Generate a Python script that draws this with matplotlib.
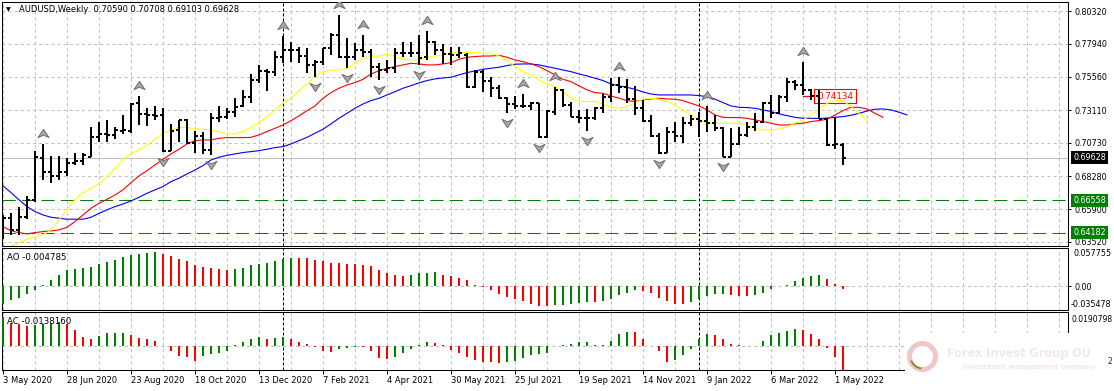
import numpy as np
import matplotlib
matplotlib.use("Agg")
import matplotlib.pyplot as plt
from matplotlib.collections import LineCollection
from matplotlib.path import Path
from matplotlib.patches import Rectangle, Circle, Arc
from matplotlib.transforms import offset_copy

plt.rcParams["font.family"] = ["DejaVu Sans"]
plt.rcParams["lines.scale_dashes"] = False

# AUDUSD weekly bars, first bar = week of 3 May 2020
opens = [.6450, .6523, .6438, .6535, .6657, .6960, .6863, .6834, .6863, .6929,
         .6943, .6973, .7113, .7138, .7131, .7162, .7162, .7361, .7284, .7276,
         .7276, .7016, .7167, .7240, .7075, .7123, .7021, .7252, .7264, .7301,
         .7342, .7410, .7531, .7599, .7592, .7697, .7750, .7750, .7706, .7641,
         .7665, .7762, .7860, .7697, .7702, .7750, .7738, .7629, .7604, .7617,
         .7726, .7731, .7726, .7697, .7811, .7750, .7721, .7714, .7714, .7478,
         .7592, .7524, .7471, .7398, .7356, .7342, .7342, .7361, .7118, .7301,
         .7459, .7349, .7264, .7252, .7252, .7325, .7410, .7495, .7478, .7390,
         .7325, .7235, .7123, .6997, .7155, .7123, .7216, .7245, .7235, .7220,
         .7179, .6973, .7065, .7131, .7191, .7228, .7361, .7288, .7410, .7519,
         .7495, .7459, .7415, .7245, .7058, .70590]
highs = [.6547, .6559, .6603, .6686, .7014, .7065, .6977, .6977, .6960, .6997,
         .6997, .7186, .7223, .7240, .7186, .7276, .7361, .7415, .7325, .7342,
         .7325, .7211, .7240, .7245, .7160, .7155, .7288, .7342, .7325, .7398,
         .7459, .7575, .7641, .7609, .7745, .7852, .7811, .7774, .7762, .7677,
         .7767, .7872, .8005, .7835, .7804, .7860, .7755, .7653, .7677, .7762,
         .7811, .7811, .7860, .7889, .7818, .7794, .7774, .7774, .7726, .7604,
         .7604, .7556, .7495, .7405, .7415, .7427, .7374, .7366, .7313, .7478,
         .7463, .7374, .7313, .7318, .7337, .7429, .7544, .7556, .7536, .7488,
         .7386, .7276, .7143, .7186, .7228, .7259, .7276, .7301, .7342, .7276,
         .7191, .7179, .7191, .7228, .7288, .7374, .7422, .7422, .7544, .7531,
         .7665, .7463, .7459, .7252, .7264, .70708]
lows = [.6370, .6402, .6402, .6516, .6645, .6802, .6778, .6802, .6832, .6912,
        .6912, .6968, .7077, .7082, .7099, .7138, .7148, .7203, .7193, .7240,
        .7009, .7016, .7082, .7065, .6997, .6992, .6985, .7228, .7245, .7264,
        .7332, .7366, .7507, .7454, .7561, .7658, .7665, .7658, .7585, .7551,
        .7641, .7714, .7690, .7617, .7677, .7702, .7556, .7531, .7580, .7585,
        .7702, .7702, .7641, .7677, .7714, .7648, .7641, .7689, .7471, .7471,
        .7446, .7405, .7390, .7288, .7318, .7325, .7313, .7106, .7111, .7276,
        .7337, .7259, .7216, .7162, .7240, .7288, .7374, .7434, .7361, .7276,
        .7228, .7118, .6992, .6997, .7082, .7075, .7196, .7118, .7155, .7162,
        .6968, .6973, .7058, .7118, .7162, .7220, .7252, .7284, .7374, .7459,
        .7422, .7386, .7245, .7053, .7026, .69103]
closes = [.6523, .6438, .6535, .6657, .6973, .6863, .6834, .6863, .6929, .6943,
          .6985, .7113, .7138, .7131, .7167, .7167, .7356, .7284, .7276, .7269,
          .7016, .7162, .7240, .7075, .7123, .7021, .7252, .7264, .7301, .7332,
          .7410, .7531, .7599, .7592, .7697, .7750, .7750, .7706, .7641, .7665,
          .7762, .7860, .7697, .7702, .7750, .7738, .7629, .7604, .7617, .7726,
          .7731, .7726, .7689, .7811, .7750, .7721, .7714, .7726, .7478, .7592,
          .7524, .7471, .7398, .7356, .7342, .7342, .7361, .7118, .7308, .7459,
          .7349, .7264, .7252, .7252, .7325, .7410, .7495, .7478, .7390, .7325,
          .7235, .7123, .6997, .7155, .7123, .7216, .7245, .7235, .7220, .7179,
          .6973, .7065, .7131, .7191, .7228, .7361, .7288, .7410, .7519, .7495,
          .7459, .7415, .7245, .7058, .7065, .69628]

# alligator lines (jaw/teeth/lips run 8/5/3 bars past the last bar)
jaw = [.6759, .6710, .6657, .6608, .6572, .6547, .6530, .6523, .6516, .6516,
       .6516, .6530, .6559, .6584, .6608, .6627, .6649, .6676, .6705, .6730,
       .6754, .6790, .6815, .6846, .6875, .6907, .6948, .6968, .6982, .6992,
       .7002, .7009, .7016, .7026, .7038, .7045, .7065, .7089, .7113, .7143,
       .7172, .7211, .7252, .7288, .7325, .7356, .7381, .7398, .7422, .7446,
       .7471, .7490, .7510, .7527, .7539, .7546, .7551, .7568, .7585, .7597,
       .7609, .7617, .7624, .7636, .7646, .7648, .7648, .7641, .7629, .7617,
       .7604, .7592, .7575, .7561, .7544, .7527, .7502, .7488, .7478, .7463,
       .7444, .7429, .7422, .7422, .7422, .7422, .7422, .7417, .7410, .7391,
       .7366, .7342, .7332, .7330, .7325, .7313, .7301, .7284, .7271, .7259,
       .7252, .7252, .7250, .7254, .7259, .7264, .7274, .7288, .7305, .7318,
       .7320, .7313, .7296, .7276]
teeth = [.6462, .6431, .6418, .6409, .6418, .6426, .6431, .6438, .6457, .6499,
         .6547, .6596, .6632, .6661, .6693, .6730, .6783, .6832, .6870, .6912,
         .6953, .6992, .7026, .7065, .7089, .7094, .7094, .7106, .7111, .7111,
         .7111, .7113, .7131, .7155, .7179, .7203, .7235, .7269, .7308, .7342,
         .7398, .7439, .7471, .7495, .7512, .7536, .7575, .7599, .7617, .7629,
         .7641, .7653, .7648, .7641, .7641, .7648, .7658, .7682, .7697, .7702,
         .7706, .7706, .7711, .7697, .7677, .7665, .7648, .7629, .7599, .7568,
         .7536, .7519, .7488, .7459, .7439, .7434, .7415, .7398, .7381, .7374,
         .7386, .7393, .7398, .7393, .7391, .7381, .7361, .7342, .7313, .7276,
         .7259, .7257, .7257, .7252, .7240, .7228, .7216, .7203, .7203, .7211,
         .7216, .7228, .7235, .7245, .7276, .7308, .7332, .7332, .7320, .7288,
         .7259]
lips = [.6297, .6321, .6346, .6370, .6384, .6402, .6438, .6511, .6584, .6661,
        .6710, .6742, .6778, .6827, .6887, .6948, .6997, .7021, .7058, .7099,
        .7143, .7167, .7186, .7184, .7174, .7172, .7167, .7155, .7138, .7138,
        .7155, .7186, .7220, .7264, .7313, .7361, .7398, .7454, .7502, .7561,
        .7592, .7604, .7604, .7617, .7653, .7689, .7702, .7706, .7721, .7702,
        .7682, .7677, .7682, .7697, .7706, .7714, .7731, .7731, .7731, .7731,
        .7726, .7726, .7706, .7672, .7629, .7592, .7568, .7531, .7502, .7483,
        .7446, .7398, .7374, .7374, .7374, .7356, .7332, .7325, .7337, .7366,
        .7391, .7398, .7391, .7374, .7349, .7313, .7276, .7240, .7216, .7216,
        .7216, .7216, .7216, .7203, .7179, .7167, .7167, .7172, .7191, .7216,
        .7240, .7276, .7318, .7361, .7381, .7378, .7337, .7288, .7235]

fractal_up = [5, 17, 35, 42, 45, 53, 65, 69, 77, 88, 100]
fractal_down = [20, 26, 39, 43, 47, 52, 63, 67, 73, 82, 90]

ao = [-0.0273, -0.0213, -0.0174, -0.0114, -0.0055, 0.0020, 0.0094, 0.0169, 0.0233, 0.0248,
      0.0263, 0.0283, 0.0332, 0.0367, 0.0397, 0.0441, 0.0471, 0.0486, 0.0491, 0.0511,
      0.0481, 0.0451, 0.0412, 0.0377, 0.0317, 0.0283, 0.0273, 0.0248, 0.0243, 0.0248,
      0.0273, 0.0308, 0.0332, 0.0347, 0.0382, 0.0407, 0.0422, 0.0417, 0.0414, 0.0392,
      0.0382, 0.0347, 0.0345, 0.0332, 0.0330, 0.0322, 0.0293, 0.0233, 0.0198, 0.0169,
      0.0149, 0.0159, 0.0193, 0.0198, 0.0203, 0.0169, 0.0149, 0.0124, 0.0084, 0.0020,
      -0.0015, -0.0064, -0.0124, -0.0164, -0.0198, -0.0228, -0.0263, -0.0293, -0.0303, -0.0288,
      -0.0278, -0.0263, -0.0253, -0.0238, -0.0243, -0.0228, -0.0188, -0.0139, -0.0104, -0.0064,
      -0.0067, -0.0104, -0.0179, -0.0223, -0.0263, -0.0265, -0.0238, -0.0188, -0.0154, -0.0124,
      -0.0119, -0.0139, -0.0144, -0.0149, -0.0139, -0.0099, -0.0040, -0.0005, 0.0010, 0.0074,
      0.0124, 0.0144, 0.0159, 0.0099, 0.0035, -0.004785]
ac = [0.0164, 0.0131, 0.0121, 0.0112, 0.0116, 0.0125, 0.0131, 0.0133, 0.0121, 0.0087,
      0.0048, 0.0040, 0.0054, 0.0069, 0.0071, 0.0072, 0.0060, 0.0044, 0.0035, 0.0029,
      -0.0002, -0.0029, -0.0056, -0.0067, -0.0085, -0.0056, -0.0046, -0.0042, -0.0029, 0.0002,
      0.0019, 0.0040, 0.0048, 0.0040, 0.0042, 0.0048, 0.0040, 0.0021, 0.0012, -0.0008,
      -0.0033, -0.0034, -0.0017, -0.0013, -0.0006, -0.0008, -0.0033, -0.0071, -0.0075, -0.0062,
      -0.0042, -0.0017, 0.0001, 0.0019, 0.0015, 0.0002, -0.0023, -0.0039, -0.0062, -0.0081,
      -0.0091, -0.0094, -0.0096, -0.0095, -0.0085, -0.0071, -0.0052, -0.0048, -0.0039, -0.0004,
      0.0006, 0.0012, 0.0021, 0.0023, 0.0006, 0.0005, 0.0025, 0.0064, 0.0079, 0.0075,
      0.0040, -0.0004, -0.0029, -0.0091, -0.0081, -0.0052, -0.0017, 0.0040, 0.0064, 0.0062,
      0.0040, 0.0010, 0.0002, -0.0001, 0.00005, 0.0029, 0.0060, 0.0071, 0.0085, 0.0092,
      0.0089, 0.0067, 0.0040, -0.0013, -0.0062, -0.013816]

price_ticks = [0.80320, 0.77940, 0.75560, 0.73110, 0.70730, 0.68280, 0.65900, 0.63520]
current_price = 0.69628
levels = [0.66558, 0.64182]
label_price = 0.74134
ao_range = (-0.035478, 0.057755)
ac_range = (-0.013816, 0.0190798)
year_breaks = [35, 87]
date_idx = list(range(0, 105, 8))
date_labels = ["3 May 2020", "28 Jun 2020", "23 Aug 2020", "18 Oct 2020", "13 Dec 2020",
               "7 Feb 2021", "4 Apr 2021", "30 May 2021", "25 Jul 2021", "19 Sep 2021",
               "14 Nov 2021", "9 Jan 2022", "6 Mar 2022", "1 May 2022"]

W, H = 1114, 391
GREEN, RED = "#008000", "#ff0000"
FS = 6
AXFS = 5.8


def box(l, t, r, b):
    return [l / W, 1 - b / H, (r - l) / W, (b - t) / H]


def fx(px):
    return px / W


def fy(py):
    return 1 - py / H


fig = plt.figure(figsize=(W / 100, H / 100), dpi=100)
ax = fig.add_axes(box(2, 2, 1068, 245.5))
ax_ao = fig.add_axes(box(2, 247.5, 1068, 309.7))
ax_ac = fig.add_axes(box(2, 312, 1068, 370))

grid_kw = dict(color="#c0c0c0", lw=0.75, ls=(0, (2.2, 2.2)))
for a in (ax, ax_ao, ax_ac):
    a.set_xlim(-0.125, 133.125)
    a.set_xticks(np.arange(0, 133, 4), minor=True)
    a.set_xticks([])
    a.xaxis.remove_overlapping_locs = False
    a.grid(True, which="minor", axis="x", **grid_kw)
    a.grid(True, which="major", axis="y", **grid_kw)
    a.set_axisbelow(True)
    a.tick_params(which="minor", length=0)
    a.yaxis.tick_right()
    a.tick_params(axis="y", length=2.2, width=0.72, pad=2.4, labelsize=AXFS)
    for s in a.spines.values():
        s.set_linewidth(0.75)
        s.set_color("black")
    for b in year_breaks:
        a.axvline(b, color="black", lw=0.75, ls=(0, (2.2, 1.4)), zorder=1.2)

# main price panel
ax.set_ylim(0.63242, 0.80998)
ax.set_yticks(price_ticks)
ax.set_yticklabels([f"{v:.5f}" for v in price_ticks])

ax.axhline(current_price, color="#c0c0c0", lw=0.75, zorder=1)
for lv in levels:
    ax.axhline(lv, color=GREEN, lw=0.75, ls=(0, (9.5, 4.5)), zorder=1)

idx = np.arange(len(closes))
segs = []
for i, o, h, l, c in zip(idx, opens, highs, lows, closes):
    segs.append([(i, l), (i, h)])
    segs.append([(i - 0.4, o), (i, o)])
    segs.append([(i, c), (i + 0.4, c)])
ax.add_collection(LineCollection(segs, colors="black", linewidths=1.44,
                                 antialiaseds=False, zorder=3, capstyle="butt"))

ax.plot(np.arange(len(jaw)), jaw, color="#0000ff", lw=0.8, zorder=2)
ax.plot(np.arange(len(teeth)), teeth, color="#ff0000", lw=0.8, zorder=2)
ax.plot(np.arange(len(lips)), lips, color="#ffff00", lw=0.8, zorder=2)

codes = [Path.MOVETO, Path.LINETO, Path.LINETO, Path.LINETO, Path.CLOSEPOLY]
arrow_up = Path([(0, 0.75), (1, -0.75), (0, -0.3), (-1, -0.75), (0, 0.75)], codes)
arrow_dn = Path([(0, -0.75), (1, 0.75), (0, 0.3), (-1, 0.75), (0, -0.75)], codes)
ax.plot(fractal_up, [highs[i] for i in fractal_up], ls="none", marker=arrow_up, ms=8,
        mfc="#a8a8a8", mec="#6e6e6e", mew=0.7, zorder=4,
        transform=offset_copy(ax.transData, fig=fig, y=11, units="dots"))
ax.plot(fractal_down, [lows[i] for i in fractal_down], ls="none", marker=arrow_dn, ms=8,
        mfc="#a8a8a8", mec="#6e6e6e", mew=0.7, zorder=4,
        transform=offset_copy(ax.transData, fig=fig, y=-10, units="dots"))

# price label object near the last bars
ax.plot([100, 101.4], [label_price, label_price], color=RED, lw=0.9, zorder=1.6)
ax.text(101.75, label_price, f"{label_price:.5f}", color=RED, fontsize=FS + 0.3,
        ha="left", va="center", zorder=1.5,
        bbox=dict(boxstyle="square,pad=0.3", fc="white", ec=RED, lw=0.8))

# boxed labels on the price scale
ytr = offset_copy(ax.get_yaxis_transform(), fig=fig, x=5, units="dots")
for val, fc in [(current_price, "black")] + [(lv, GREEN) for lv in levels]:
    ax.text(1.0, val, f"{val:.5f}", transform=ytr, color="white", fontsize=AXFS,
            ha="left", va="center", clip_on=False, zorder=5,
            bbox=dict(boxstyle="square,pad=0.25", fc=fc, ec="none"))

# AO panel
ao_col = [GREEN if i == 0 or ao[i] > ao[i - 1] else RED for i in range(len(ao))]
ax_ao.vlines(np.arange(len(ao)), 0, ao, colors=ao_col, lw=1.3, antialiased=False, zorder=3)
ax_ao.set_ylim(*ao_range)
ax_ao.set_yticks([0])
ax_ao.set_yticklabels(["0.00"])
ax_ao.annotate(f"{ao_range[1]:.6f}", xy=(1, 1), xycoords="axes fraction", xytext=(5, -2),
               textcoords="offset pixels", ha="left", va="top", fontsize=AXFS)
ax_ao.annotate(f"{ao_range[0]:.6f}", xy=(1, 0), xycoords="axes fraction", xytext=(3, 1),
               textcoords="offset pixels", ha="left", va="bottom", fontsize=AXFS)

# AC panel
ac_col = [GREEN if i == 0 or ac[i] > ac[i - 1] else RED for i in range(len(ac))]
ax_ac.vlines(np.arange(len(ac)), 0, ac, colors=ac_col, lw=1.3, antialiased=False, zorder=3)
ax_ac.set_ylim(*ac_range)
ax_ac.set_yticks([0])
ax_ac.set_yticklabels([""])
ax_ac.annotate(f"{ac_range[1]:.7f}", xy=(1, 1), xycoords="axes fraction", xytext=(3, -2.5),
               textcoords="offset pixels", ha="left", va="top", fontsize=5.5)
ax_ac.set_xticks(date_idx)
ax_ac.set_xticklabels(date_labels, ha="left")
ax_ac.tick_params(axis="x", which="major", length=3, width=0.72, pad=1.2, labelsize=FS)

# panel captions
fig.text(fx(6), fy(10), "\u25bc", fontsize=4.5, va="center", ha="left")
fig.text(fx(19), fy(10), "AUDUSD,Weekly  0.70590 0.70708 0.69103 0.69628",
         fontsize=FS, va="center", ha="left")
fig.text(fx(7), fy(257.5), f"AO {ao[-1]:.6f}", fontsize=FS + 0.2, va="center", ha="left")
fig.text(fx(7), fy(321), f"AC {ac[-1]:.7f}", fontsize=FS + 0.2, va="center", ha="left")

# watermark block in the lower right corner
fig.patches.append(Rectangle((fx(905), fy(391)), (1114 - 905) / W, (391 - 333) / H,
                             transform=fig.transFigure, fc="white", ec="none", zorder=10))
fig.patches.append(Circle((922.5 / 100, (H - 356.5) / 100), 0.13, transform=fig.dpi_scale_trans,
                          fc="none", ec="#f0c6c6", lw=3.6, zorder=11))
fig.patches.append(Arc((922.5 / 100, (H - 356.5) / 100), 0.24, 0.24, theta1=200, theta2=265,
                       transform=fig.dpi_scale_trans, ec="#6b8e23", lw=1.2, zorder=12))
fig.text(fx(947), fy(354), "Forex Invest Group OU", fontsize=9, fontweight="bold",
         fontstretch="condensed", color="#f3e8e8", va="center", ha="left", zorder=12)
fig.text(fx(963), fy(367), "Investment management company", fontsize=5.4, fontweight="bold",
         fontstretch="condensed", color="#f1e7e7", va="center", ha="left", zorder=12)
fig.text(fx(1108), fy(362), "2", fontsize=5.5, color="#222222", va="center", ha="left", zorder=12)

fig.savefig("out.png", dpi=100)
